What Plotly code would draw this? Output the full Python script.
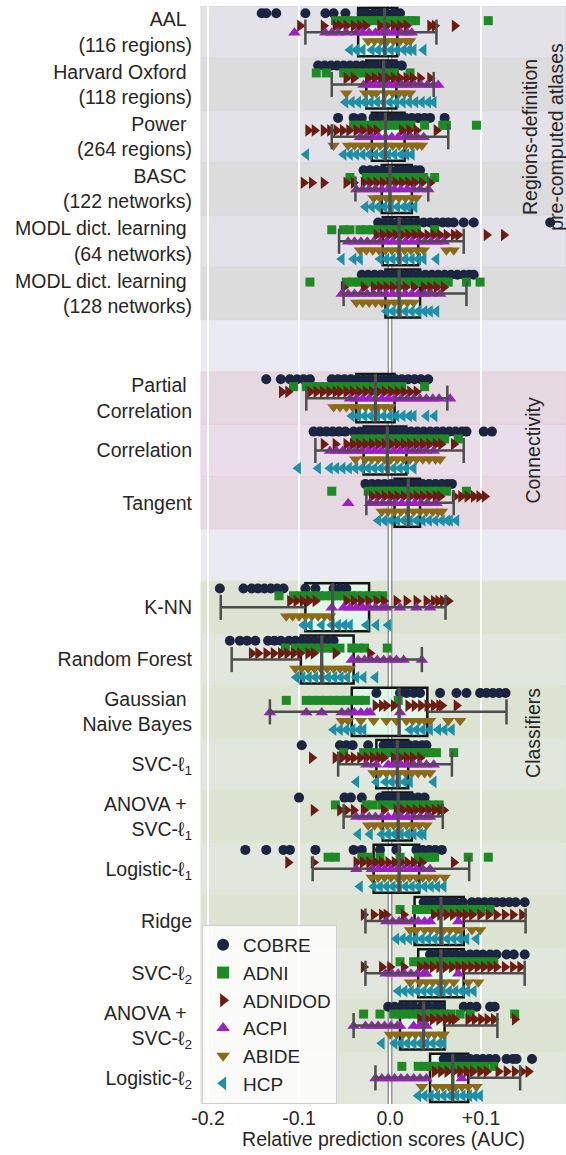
import plotly.graph_objects as go

# ---------------- data ----------------
ROW_LABELS = [
    "AAL\u00a0<br>(116 regions)", "Harvard Oxford\u00a0<br>(118 regions)", "Power\u00a0<br>(264 regions)",
    "BASC\u00a0<br>(122 networks)", "MODL dict. learning\u00a0<br>(64 networks)",
    "MODL dict. learning\u00a0<br>(128 networks)",
    "Partial\u00a0<br>Correlation", "Correlation", "Tangent",
    "K-NN", "Random Forest", "Gaussian\u00a0<br>Naive Bayes", "SVC-ℓ<sub>1</sub>",
    "ANOVA +\u00a0<br>SVC-ℓ<sub>1</sub>", "Logistic-ℓ<sub>1</sub>", "Ridge", "SVC-ℓ<sub>2</sub>",
    "ANOVA +\u00a0<br>SVC-ℓ<sub>2</sub>", "Logistic-ℓ<sub>2</sub>",
]
ROW_POS = [0, 1, 2, 3, 4, 5, 7, 8, 9, 11, 12, 13, 14, 15, 16, 17, 18, 19, 20]
GROUPS = ["atlas"] * 6 + ["conn"] * 3 + ["clf"] * 10

DATASETS = ["COBRE", "ADNI", "ADNIDOD", "ACPI", "ABIDE", "HCP"]

COBRE = [
    [-0.141, -0.136, -0.125, -0.093, -0.071, -0.062, -0.049, -0.031, -0.026, -0.018, -0.011, -0.004, 0.004, 0.011],
    [-0.079, -0.072, -0.065, -0.058, -0.051, -0.044, -0.037, -0.03, -0.022, -0.015, -0.008, 0.0, 0.007, 0.013],
    [-0.057, -0.04, -0.031, -0.018, -0.011, -0.004, 0.003, 0.01, 0.017, 0.024, 0.031, 0.038, 0.044, 0.06],
    [-0.029, -0.022, -0.015, -0.008, 0.0, 0.008, 0.015, 0.022, 0.028, 0.033],
    [-0.013, -0.006, 0.001, 0.009, 0.016, 0.023, 0.03, 0.037, 0.044, 0.051, 0.058, 0.064, 0.07, 0.081, 0.092, 0.176],
    [-0.031, -0.024, -0.017, -0.01, -0.003, 0.004, 0.011, 0.018, 0.025, 0.032, 0.039, 0.046, 0.053, 0.06, 0.067, 0.074, 0.081, 0.087, 0.092],
    [-0.136, -0.12, -0.11, -0.102, -0.095, -0.088, -0.064, -0.057, -0.05, -0.043, -0.036, -0.029, -0.022, -0.015, -0.008, -0.001, 0.006, 0.013, 0.02, 0.027, 0.034, 0.042],
    [-0.084, -0.077, -0.07, -0.063, -0.056, -0.049, -0.04, -0.033, -0.026, -0.019, -0.012, -0.005, 0.002, 0.009, 0.016, 0.023, 0.03, 0.037, 0.044, 0.051, 0.058, 0.065, 0.072, 0.079, 0.084, 0.103, 0.112],
    [-0.027, -0.02, -0.013, -0.006, 0.001, 0.008, 0.015, 0.022, 0.029, 0.036, 0.043, 0.05, 0.057, 0.063, 0.068],
    [-0.187, -0.161, -0.152, -0.145, -0.138, -0.131, -0.124, -0.117, -0.093, -0.082, -0.062, -0.055, -0.048],
    [-0.176, -0.165, -0.157, -0.148, -0.134, -0.127, -0.12, -0.111, -0.104, -0.097, -0.09, -0.083, -0.076, -0.069, -0.062],
    [-0.015, 0.011, 0.018, 0.026, 0.033, 0.055, 0.073, 0.084, 0.099, 0.106, 0.113, 0.12, 0.127],
    [-0.097, -0.055, -0.048, -0.041, -0.024, -0.007, 0.0, 0.007, 0.014, 0.021, 0.028, 0.035, 0.04],
    [-0.1, -0.05, -0.043, -0.031, -0.011, -0.004, 0.003, 0.01, 0.017, 0.024, 0.031, 0.038],
    [-0.159, -0.136, -0.117, -0.11, -0.082, -0.04, -0.031, -0.011, 0.007, 0.029, 0.036, 0.043, 0.05, 0.057],
    [0.037, 0.044, 0.051, 0.058, 0.065, 0.072, 0.08, 0.09, 0.097, 0.104, 0.111, 0.117, 0.124, 0.131, 0.138, 0.148],
    [0.044, 0.051, 0.058, 0.065, 0.072, 0.08, 0.088, 0.095, 0.102, 0.11, 0.117, 0.128, 0.136, 0.148],
    [-0.002, 0.005, 0.012, 0.019, 0.026, 0.035, 0.042, 0.05, 0.055, 0.081, 0.088, 0.095, 0.11, 0.115],
    [0.059, 0.066, 0.073, 0.08, 0.088, 0.095, 0.102, 0.109, 0.116, 0.128, 0.135, 0.139, 0.156],
]
ADNI = [
    [-0.06, -0.053, -0.046, -0.039, -0.032, -0.025, -0.018, -0.011, -0.004, 0.003, 0.01, 0.017, 0.024, 0.028, 0.108],
    [-0.081, -0.07, -0.051, -0.044, -0.037, -0.03, -0.023, -0.016, -0.009, -0.002, 0.005, 0.022],
    [-0.04, -0.033, -0.026, -0.019, -0.012, -0.005, 0.002, 0.009, 0.016, 0.023, 0.038, 0.058, 0.062, 0.095],
    [-0.044, -0.026, -0.019, -0.012, -0.005, 0.002, 0.009, 0.016, 0.023, 0.03, 0.037, 0.049],
    [-0.064, -0.051, -0.044, -0.033, -0.026, -0.019, -0.012, -0.005, 0.002, 0.009, 0.016, 0.023, 0.029, 0.049],
    [-0.088, -0.048, -0.041, -0.034, -0.027, -0.02, -0.013, -0.006, 0.001, 0.008, 0.015, 0.022, 0.029, 0.036, 0.043, 0.05, 0.057, 0.064, 0.084, 0.099],
    [-0.106, -0.092, -0.085, -0.078, -0.071, -0.064, -0.057, -0.05, -0.043, -0.036, -0.029, -0.022, -0.015, -0.008, -0.001, 0.006, 0.013, 0.038],
    [-0.038, -0.031, -0.024, -0.017, -0.01, -0.003, 0.004, 0.011, 0.018, 0.025, 0.032, 0.039, 0.046, 0.053, 0.06, 0.075],
    [-0.064, -0.024, -0.017, -0.01, -0.003, 0.004, 0.011, 0.018, 0.025, 0.032, 0.041, 0.048, 0.055, 0.062, 0.084],
    [-0.122, -0.106, -0.099, -0.092, -0.085, -0.078, -0.071, -0.064, -0.057, -0.05, -0.043, -0.036, -0.029, -0.022, -0.015, -0.008],
    [-0.115, -0.104, -0.097, -0.09, -0.083, -0.076, -0.069, -0.062, -0.055, -0.042, -0.035, -0.028, -0.003],
    [-0.114, -0.092, -0.085, -0.078, -0.07, -0.062, -0.055, -0.048, -0.041, -0.034, -0.027, 0.009],
    [-0.051, -0.029, -0.022, -0.015, -0.005, 0.002, 0.009, 0.016, 0.023, 0.03, 0.037, 0.044, 0.051, 0.07],
    [-0.06, -0.026, -0.019, -0.009, -0.002, 0.005, 0.012, 0.019, 0.026, 0.033, 0.04, 0.047, 0.054],
    [-0.068, -0.06, -0.031, -0.024, -0.011, 0.011, 0.031, 0.038, 0.045, 0.049, 0.086, 0.108],
    [0.011, 0.029, 0.036, 0.043, 0.05, 0.057, 0.064, 0.071, 0.078, 0.085, 0.092, 0.1, 0.11],
    [0.011, 0.026, 0.033, 0.04, 0.047, 0.054, 0.061, 0.068, 0.075, 0.082, 0.089, 0.098, 0.106, 0.114],
    [-0.029, -0.011, 0.004, 0.011, 0.018, 0.025, 0.032, 0.039, 0.046, 0.053, 0.06, 0.067, 0.077, 0.088, 0.137],
    [0.013, 0.031, 0.038, 0.045, 0.052, 0.059, 0.066, 0.073, 0.08, 0.087, 0.095, 0.104, 0.114],
]
ADNIDOD = [
    [-0.099, -0.073, -0.06, -0.055, -0.048, -0.04, -0.033, -0.027, -0.011, -0.004, 0.004, 0.011, 0.018, 0.044, 0.049, 0.071],
    [-0.048, -0.04, -0.024, -0.017, -0.01, -0.003, 0.004, 0.011, 0.018, 0.025, 0.033, 0.044],
    [-0.09, -0.083, -0.073, -0.066, -0.059, -0.052, -0.045, -0.037, -0.03, -0.022, -0.015, 0.013, 0.021, 0.029, 0.051],
    [-0.095, -0.086, -0.073, -0.048, -0.04, -0.029, -0.022, -0.015, -0.008, -0.001, 0.006, 0.013, 0.02, 0.027, 0.035, 0.044],
    [-0.015, -0.008, -0.001, 0.006, 0.013, 0.02, 0.027, 0.034, 0.041, 0.048, 0.055, 0.062, 0.07, 0.075, 0.106, 0.125],
    [-0.051, -0.029, -0.018, -0.011, -0.004, 0.003, 0.01, 0.017, 0.026, 0.037, 0.044, 0.051, 0.059],
    [-0.119, -0.112, -0.088, -0.081, -0.074, -0.067, -0.06, -0.055, -0.048, -0.041, -0.034, -0.027, -0.02, -0.013, -0.006, 0.001, 0.008, 0.015, 0.022, 0.029],
    [-0.073, -0.06, -0.048, -0.041, -0.034, -0.027, -0.02, -0.013, -0.006, 0.001, 0.008, 0.015, 0.022, 0.029, 0.036, 0.043, 0.05, 0.056, 0.07],
    [-0.02, -0.013, -0.006, 0.001, 0.008, 0.015, 0.022, 0.029, 0.036, 0.043, 0.05, 0.055, 0.071, 0.078, 0.085, 0.092, 0.098, 0.104],
    [-0.11, -0.103, -0.096, -0.089, -0.082, -0.048, -0.04, -0.032, -0.024, -0.015, -0.007, 0.007, 0.018, 0.029, 0.04, 0.048, 0.053, 0.058, 0.064],
    [-0.152, -0.145, -0.136, -0.128, -0.12, -0.113, -0.106, -0.099, -0.09, -0.084, -0.06, -0.022],
    [-0.016, -0.009, -0.004, 0.004, 0.02, 0.027, 0.034, 0.041, 0.048, 0.054, 0.057, 0.073],
    [-0.086, -0.06, -0.053, -0.046, -0.04, -0.033, -0.026, -0.019, -0.012, -0.007, 0.004, 0.011, 0.018, 0.025, 0.033],
    [-0.084, -0.055, -0.048, -0.04, -0.029, -0.007, 0.007, 0.014, 0.021, 0.028, 0.035, 0.042, 0.049, 0.055, 0.059],
    [-0.112, -0.084, -0.037, -0.03, -0.023, -0.016, -0.009, -0.002, 0.005, 0.012, 0.019, 0.026, 0.035, 0.07],
    [-0.029, -0.018, -0.009, -0.004, 0.015, 0.048, 0.055, 0.062, 0.069, 0.076, 0.083, 0.09, 0.099, 0.108, 0.117, 0.126, 0.135, 0.145],
    [-0.029, -0.009, 0.0, 0.015, 0.033, 0.04, 0.047, 0.054, 0.061, 0.068, 0.075, 0.082, 0.089, 0.096, 0.103, 0.11, 0.117, 0.126, 0.135, 0.143],
    [0.033, 0.04, 0.047, 0.054, 0.061, 0.067, 0.071, 0.086, 0.093, 0.1, 0.107, 0.114, 0.137],
    [0.049, 0.056, 0.063, 0.07, 0.077, 0.084, 0.091, 0.099, 0.106, 0.119, 0.128, 0.137, 0.145, 0.152],
]
ACPI = [
    [-0.105, -0.071, -0.064, -0.057, -0.048, -0.037, -0.03, -0.023, -0.016, -0.009, -0.002, 0.005, 0.012, 0.019, 0.024],
    [-0.029, -0.022, -0.015, -0.008, -0.001, 0.006, 0.013, 0.02, 0.027, 0.034, 0.041, 0.048, 0.053],
    [-0.033, -0.026, -0.019, -0.012, -0.005, 0.002, 0.009, 0.016, 0.023, 0.03, 0.037],
    [-0.037, -0.03, -0.023, -0.016, -0.009, -0.002, 0.005, 0.012, 0.019, 0.026, 0.033, 0.042],
    [-0.046, -0.039, -0.032, -0.025, -0.018, -0.011, -0.004, 0.003, 0.01, 0.017, 0.024, 0.031, 0.038, 0.045, 0.052, 0.059],
    [-0.053, -0.046, -0.039, -0.032, -0.025, -0.018, -0.011, -0.004, 0.003, 0.01, 0.017, 0.024, 0.031, 0.038, 0.045, 0.055],
    [-0.044, -0.037, -0.03, -0.023, -0.016, -0.009, -0.002, 0.005, 0.012, 0.019, 0.026, 0.033, 0.04, 0.047, 0.054, 0.066],
    [-0.066, -0.059, -0.052, -0.045, -0.038, -0.031, -0.024, -0.017, -0.01, -0.003, 0.004, 0.011, 0.018, 0.025, 0.032, 0.039, 0.048],
    [-0.046, -0.022, -0.015, -0.008, -0.001, 0.006, 0.013, 0.02, 0.027, 0.034, 0.041, 0.051],
    [-0.064, -0.051, -0.044, -0.037, -0.03, -0.023, -0.016, -0.009, -0.004, 0.011, 0.029, 0.044],
    [-0.042, -0.035, -0.028, -0.021, -0.014, -0.007, 0.0, 0.007, 0.015, 0.035],
    [-0.132, -0.092, -0.075, -0.053, -0.046, -0.039, -0.032, -0.025, -0.022, 0.011],
    [-0.026, -0.015, -0.002, 0.005, 0.012, 0.019, 0.026, 0.033, 0.04, 0.048],
    [-0.037, -0.03, -0.023, -0.016, -0.009, -0.002, 0.005, 0.012, 0.019, 0.026, 0.033, 0.04, 0.044],
    [-0.037, -0.02, -0.013, -0.006, 0.001, 0.008, 0.015, 0.022, 0.029, 0.036, 0.044],
    [-0.004, 0.003, 0.01, 0.017, 0.024, 0.031, 0.038, 0.044, 0.075],
    [-0.005, 0.002, 0.009, 0.016, 0.023, 0.03, 0.037, 0.04, 0.075],
    [-0.04, -0.027, -0.02, -0.013, -0.006, 0.001, 0.008, 0.011, 0.026, 0.033, 0.04],
    [-0.016, -0.009, -0.002, 0.005, 0.012, 0.019, 0.026, 0.033, 0.04, 0.079],
]
ABIDE = [
    [-0.024, -0.017, -0.01, -0.003, 0.004, 0.011, 0.018, 0.022],
    [-0.048, -0.027, -0.02, -0.015, -0.005, 0.003, 0.01, 0.016, 0.022],
    [-0.062, -0.046, -0.039, -0.032, -0.025, -0.018, -0.011, -0.004, 0.003, 0.01, 0.017, 0.024, 0.03, 0.035],
    [-0.018, -0.011, -0.004, 0.003, 0.01, 0.017, 0.024, 0.029],
    [-0.033, -0.026, -0.019, -0.012, -0.005, 0.002, 0.009, 0.016, 0.023, 0.03, 0.037, 0.062, 0.07],
    [-0.037, -0.03, -0.023, -0.016, -0.009, -0.002, 0.005, 0.012, 0.019, 0.026],
    [-0.062, -0.055, -0.048, -0.041, -0.034, -0.027, -0.02, -0.013, -0.006, 0.0],
    [-0.038, -0.027, -0.02, -0.013, -0.006, 0.001, 0.008, 0.015, 0.022, 0.029, 0.036, 0.043, 0.05, 0.055],
    [-0.009, -0.002, 0.005, 0.012, 0.019, 0.026, 0.033, 0.04, 0.047, 0.053, 0.057],
    [-0.114, -0.107, -0.1, -0.093, -0.086, -0.079, -0.072, -0.066],
    [-0.104, -0.097, -0.09, -0.083, -0.076, -0.069, -0.062, -0.055, -0.049, -0.044],
    [-0.053, -0.046, -0.032, -0.018, -0.004, 0.007, 0.018, 0.025, 0.032, 0.038, 0.044, 0.064, 0.077],
    [-0.018, -0.011, -0.004, 0.003, 0.01, 0.017, 0.024, 0.031, 0.038, 0.044],
    [-0.024, -0.017, -0.01, -0.003, 0.004, 0.011, 0.018, 0.025, 0.032, 0.04],
    [-0.02, -0.013, -0.006, 0.001, 0.008, 0.015, 0.022, 0.029, 0.036, 0.043, 0.05, 0.06],
    [0.022, 0.029, 0.038, 0.045, 0.052, 0.059, 0.066, 0.073, 0.077, 0.09, 0.099],
    [0.022, 0.033, 0.04, 0.047, 0.054, 0.061, 0.07, 0.086, 0.097],
    [0.0, 0.007, 0.014, 0.021, 0.028, 0.035, 0.042, 0.049, 0.056, 0.059],
    [0.035, 0.051, 0.058, 0.065, 0.072, 0.079, 0.086, 0.095],
]
HCP = [
    [-0.044, -0.037, -0.03, -0.02, -0.013, -0.006, 0.001, 0.008, 0.015, 0.021, 0.026, 0.037],
    [-0.049, -0.042, -0.035, -0.028, -0.021, -0.014, -0.007, 0.0, 0.007, 0.014, 0.021, 0.028, 0.035, 0.042, 0.048],
    [-0.092, -0.051, -0.044, -0.037, -0.03, -0.023, -0.016, -0.009, -0.002, 0.005, 0.012, 0.018, 0.024],
    [-0.027, -0.02, -0.013, -0.006, 0.001, 0.008, 0.015, 0.02, 0.027],
    [-0.053, -0.04, -0.033, -0.011, -0.004, 0.003, 0.01, 0.017, 0.024, 0.031, 0.037, 0.051],
    [-0.004, 0.003, 0.01, 0.017, 0.024, 0.031, 0.038, 0.044, 0.051],
    [-0.042, -0.035, -0.028, -0.021, -0.014, -0.007, 0.0, 0.007, 0.014, 0.021, 0.026, 0.04, 0.049],
    [-0.101, -0.079, -0.066, -0.059, -0.052, -0.045, -0.038, -0.031, -0.024, -0.017, -0.01, -0.003, 0.004, 0.011, 0.018, 0.026],
    [-0.013, -0.006, 0.001, 0.008, 0.015, 0.022, 0.029, 0.036, 0.043, 0.05, 0.057, 0.063, 0.066, 0.073],
    [-0.095, -0.088, -0.075, -0.064, -0.057, -0.05, -0.044, -0.026, -0.015, -0.002],
    [-0.103, -0.096, -0.089, -0.082, -0.075, -0.068, -0.061, -0.054, -0.047, -0.037, -0.029, -0.016],
    [-0.062, -0.055, -0.048, -0.041, -0.034, -0.029, 0.022, 0.029, 0.036, 0.044, 0.053, 0.06, 0.068],
    [-0.037, -0.015, -0.005, 0.002, 0.009, 0.016, 0.022, 0.048],
    [-0.035, -0.022, -0.009, -0.002, 0.005, 0.012, 0.019, 0.026, 0.033, 0.037],
    [-0.033, -0.018, -0.011, -0.004, 0.003, 0.01, 0.017, 0.024, 0.031, 0.038, 0.045, 0.052, 0.059],
    [0.007, 0.014, 0.021, 0.028, 0.035, 0.042, 0.049, 0.056, 0.063, 0.07, 0.077, 0.084, 0.095],
    [0.009, 0.016, 0.023, 0.03, 0.037, 0.044, 0.051, 0.058, 0.065, 0.072, 0.079, 0.085, 0.092],
    [-0.009, 0.005, 0.012, 0.019, 0.026, 0.033, 0.04, 0.047, 0.054, 0.059],
    [0.031, 0.038, 0.045, 0.052, 0.059, 0.066, 0.073, 0.08, 0.087, 0.093, 0.099],
]

# box statistics per row
BOX_Q1 = [-0.035, -0.026, -0.02, -0.009, -0.008, -0.005, -0.037, -0.029, 0.005, -0.093, -0.098, -0.042, -0.015, -0.008, -0.018, 0.027, 0.031, 0.011, 0.044]
BOX_MED = [-0.006, -0.007, -0.005, 0.0, 0.01, 0.01, -0.016, -0.003, 0.02, -0.063, -0.075, 0.01, 0.008, 0.009, 0.01, 0.056, 0.056, 0.037, 0.069]
BOX_Q3 = [0.008, 0.007, 0.016, 0.024, 0.031, 0.033, 0.005, 0.018, 0.033, -0.023, -0.04, 0.041, 0.02, 0.024, 0.032, 0.081, 0.081, 0.06, 0.086]
WHISK_LO = [-0.093, -0.064, -0.064, -0.038, -0.056, -0.051, -0.092, -0.082, -0.026, -0.186, -0.174, -0.132, -0.057, -0.051, -0.085, -0.027, -0.027, -0.04, -0.016]
WHISK_HI = [0.051, 0.048, 0.064, 0.042, 0.081, 0.084, 0.063, 0.081, 0.07, 0.061, 0.035, 0.128, 0.068, 0.058, 0.087, 0.149, 0.148, 0.118, 0.143]

X_TICKS = [-0.2, -0.1, 0.0, 0.1]
X_TICK_TEXT = ["-0.2", "-0.1", "0.0", "+0.1"]

# ---------------- styles ----------------
FONT = "Liberation Sans, Arial, sans-serif"
TXT = "#262626"
STYLE = {
    "COBRE": dict(symbol="circle", color="#1b2541", size=10),
    "ADNI": dict(symbol="square", color="#1d8a25", size=9),
    "ADNIDOD": dict(symbol="triangle-right", color="#6b1d12", size=11),
    "ACPI": dict(symbol="triangle-up", color="#9b1fc1", size=11),
    "ABIDE": dict(symbol="triangle-down", color="#8c6a17", size=11),
    "HCP": dict(symbol="triangle-left", color="#1f8fa6", size=11),
}
OFFSET = {"COBRE": -0.36, "ADNI": -0.22, "ADNIDOD": -0.12, "ACPI": 0.01, "ABIDE": 0.17, "HCP": 0.34}
BAND = {"atlas": ("#e2e2e8", "#dcdcdd", "#d6d6dc"),
        "conn": ("#e6d8e0", "#e9dde9", "#e8cddc"),
        "clf": ("#dde3d3", "#e1e7dc", "#d9e6cc")}

SERIES = {"COBRE": COBRE, "ADNI": ADNI, "ADNIDOD": ADNIDOD, "ACPI": ACPI, "ABIDE": ABIDE, "HCP": HCP}

fig = go.Figure()

# boxes (fill + outline)
fig.add_trace(go.Box(
    y=ROW_POS, q1=BOX_Q1, median=BOX_MED, q3=BOX_Q3,
    lowerfence=BOX_Q1, upperfence=BOX_Q3, orientation="h",
    width=0.92, whiskerwidth=0, boxpoints=False,
    fillcolor="rgba(225,255,240,0.75)", line=dict(color="#141414", width=2.5),
    showlegend=False, hoverinfo="skip",
))

# points
for name in DATASETS:
    xs, ys = [], []
    for pos, vals in zip(ROW_POS, SERIES[name]):
        xs.extend(vals)
        ys.extend([pos + OFFSET[name]] * len(vals))
    st = STYLE[name]
    fig.add_trace(go.Scatter(
        x=xs, y=ys, mode="markers", name=name,
        marker=dict(symbol=st["symbol"], color=st["color"], size=st["size"], line=dict(width=0)),
    ))

# whiskers, caps and medians
wx, wy, mx, my = [], [], [], []
for pos, lo, q1, q3, hi, med in zip(ROW_POS, WHISK_LO, BOX_Q1, BOX_Q3, WHISK_HI, BOX_MED):
    wx += [lo, q1, None, q3, hi, None, lo, lo, None, hi, hi, None]
    wy += [pos, pos, None, pos, pos, None, pos - 0.24, pos + 0.24, None, pos - 0.24, pos + 0.24, None]
    mx += [med, med, None]
    my += [pos - 0.46, pos + 0.46, None]
fig.add_trace(go.Scatter(x=wx, y=wy, mode="lines", line=dict(color="#4d4d4d", width=2.5),
                         showlegend=False, hoverinfo="skip"))
fig.add_trace(go.Scatter(x=mx, y=my, mode="lines", line=dict(color="#4f4f4f", width=3.2),
                         showlegend=False, hoverinfo="skip"))

# background bands
shapes = []
alt = 0
prev = None
for pos, grp in zip(ROW_POS, GROUPS):
    if grp != prev:
        alt = 0
        prev = grp
    c = BAND[grp][alt % 2]
    shapes.append(dict(type="rect", xref="paper", yref="y", x0=0, x1=1, y0=pos - 0.5, y1=pos + 0.5,
                       fillcolor=c, line=dict(color=BAND[grp][2], width=1), layer="below"))
    alt += 1
# zero reference line (double)
shapes.append(dict(type="line", xref="x", yref="paper", x0=0, x1=0, y0=0, y1=1,
                   line=dict(color="rgba(120,120,120,0.75)", width=5), layer="between"))
shapes.append(dict(type="line", xref="x", yref="paper", x0=0, x1=0, y0=0, y1=1,
                   line=dict(color="#e6e6e6", width=1.6), layer="between"))

annotations = [
    dict(text="Regions-definition<br>pre-computed atlases", x=0.937, y=2.0, xref="paper", yref="y",
         xanchor="center", yanchor="middle",
         textangle=-90, showarrow=False, font=dict(size=19.5, color=TXT, family=FONT)),
    dict(text="Connectivity", x=0.91, y=8.0, xref="paper", yref="y",
         xanchor="center", yanchor="middle",
         textangle=-90, showarrow=False, font=dict(size=19.5, color=TXT, family=FONT)),
    dict(text="Classifiers", x=0.91, y=13.4, xref="paper", yref="y",
         xanchor="center", yanchor="middle",
         textangle=-90, showarrow=False, font=dict(size=19.5, color=TXT, family=FONT)),
]

fig.update_layout(
    width=566, height=1155,
    margin=dict(l=201, r=0, t=6, b=51),
    paper_bgcolor="white", plot_bgcolor="#eaeaf2",
    font=dict(family=FONT, color=TXT, size=19.5),
    shapes=shapes, annotations=annotations,
    legend=dict(x=0.003, y=0.0, xanchor="left", yanchor="bottom",
                bgcolor="rgba(255,255,255,0.85)", bordercolor="#cfcfcf", borderwidth=1,
                font=dict(size=19, color=TXT, family=FONT), itemsizing="constant",
                itemwidth=30, tracegroupgap=0),
    showlegend=True,
)
fig.update_xaxes(range=[-0.2077, 0.1934], tickvals=X_TICKS, ticktext=X_TICK_TEXT,
                 showgrid=True, gridcolor="white", gridwidth=1.5, zeroline=False,
                 ticks="", tickfont=dict(size=19.5, color=TXT), automargin=False,
                 title=dict(text="Relative prediction scores (AUC)", font=dict(size=19.5, color=TXT), standoff=2))
fig.update_yaxes(range=[20.5, -0.5], tickvals=ROW_POS, ticktext=ROW_LABELS,
                 showgrid=False, zeroline=False, ticks="", ticklabelstandoff=8, automargin=False,
                 tickfont=dict(size=19.5, color=TXT))

fig.write_html("out.html", config={"displayModeBar": False},
               post_script="document.body.style.margin='0px';document.body.style.overflow='hidden';")
